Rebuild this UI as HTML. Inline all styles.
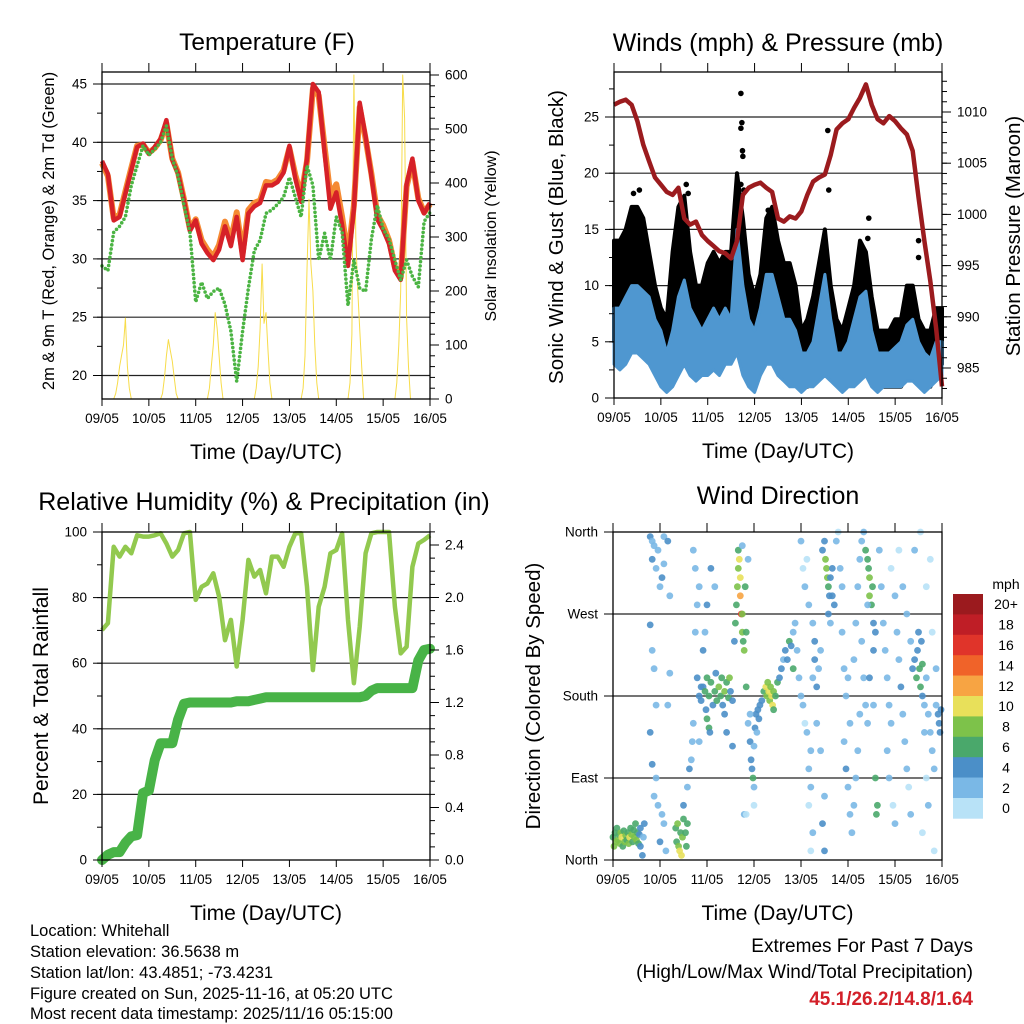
<!DOCTYPE html>
<html><head><meta charset="utf-8">
<style>
html,body{margin:0;padding:0;background:#fff;}
svg{display:block;font-family:"Liberation Sans",Arial,sans-serif;}
</style></head>
<body>
<svg id="chart" width="1024" height="1024" viewBox="0 0 1024 1024" xmlns="http://www.w3.org/2000/svg">
<g id="layer"></g>
<g font-size="16.5" fill="#000">
<text x="30" y="936">Location: Whitehall</text>
<text x="30" y="957">Station elevation: 36.5638 m</text>
<text x="30" y="978">Station lat/lon: 43.4851; -73.4231</text>
<text x="30" y="999">Figure created on Sun, 2025-11-16, at 05:20 UTC</text>
<text x="30" y="1019">Most recent data timestamp: 2025/11/16 05:15:00</text>
</g>
<g text-anchor="end">
<text x="973" y="952" font-size="19">Extremes For Past 7 Days</text>
<text x="973" y="978" font-size="19">(High/Low/Max Wind/Total Precipitation)</text>
<text x="973" y="1005" font-size="19" font-weight="bold" fill="#d32029">45.1/26.2/14.8/1.64</text>
</g>
</svg>
<script>
// ---------- DATA ----------
const dayLabels = ["09/05","10/05","11/05","12/05","13/05","14/05","15/05","16/05"];
const hours3 = [0,3,6,9,12,15,18,21,24,27,30,33,36,39,42,45,48,51,54,57,60,63,66,69,72,75,78,81,84,87,90,93,96,99,102,105,108,111,114,117,120,123,126,129,132,135,138,141,144,147,150,153,156,159,162,165,168];
const temp2m = [38.4,37.3,33.3,33.6,35.6,37.6,39.6,39.9,39.0,39.6,40.3,41.9,38.5,37.3,35.0,32.4,33.3,31.3,30.5,29.9,30.8,32.8,31.1,33.6,29.9,33.9,34.5,34.8,36.3,36.3,36.6,37.4,39.7,36.9,34.9,38.6,45.0,44.3,39.1,34.3,35.7,32.9,29.4,34.3,43.4,40.5,37.1,33.4,32.5,31.3,29.0,28.2,36.4,38.6,35.0,33.9,34.8];
const temp9m = [38.2,37.1,33.5,33.8,35.8,37.8,39.7,39.8,39.1,39.5,40.2,41.6,38.6,37.4,35.1,32.6,33.4,31.6,30.8,30.2,31.2,33.2,31.6,34.0,30.5,34.2,34.8,35.0,36.6,36.5,36.8,37.6,39.5,37.2,35.4,38.4,44.6,44.0,39.6,35.4,36.4,33.6,30.2,34.6,43.0,40.3,37.3,33.8,32.9,31.6,29.3,28.4,36.2,38.3,35.2,34.0,34.7];
const dewpoint = [29.4,29.0,32.3,32.8,33.6,36.3,38.0,39.7,38.9,39.4,40.0,41.4,38.6,37.1,34.6,32.3,26.3,28.0,26.6,27.2,27.5,26.1,23.8,19.5,23.8,27.5,30.7,31.6,33.9,34.2,34.7,35.3,37.0,35.3,33.6,38.0,36.3,29.9,32.2,29.9,33.6,32.3,26.0,29.9,27.5,27.2,31.7,34.6,32.6,31.7,29.9,28.2,29.9,28.5,27.6,33.2,34.0];
const solarHours = [6,7,8,9,10,11,12,13,14,15,16,17];
const solarDay0 = [0,10,30,60,80,100,150,60,20,0,0,0];
const solarDay1 = [0,10,40,80,110,90,70,40,10,0,0,0];
const solarDay2 = [0,20,60,100,160,130,80,30,0,0,0,0];
const solarDay3 = [0,20,60,130,250,140,160,90,30,0,0,0];
const solarDay4 = [0,20,80,240,370,250,200,100,30,0,0,0];
const solarDay5 = [0,30,120,600,300,200,130,60,0,0,0,0];
const solarDay6 = [0,30,100,200,600,520,150,60,0,0,0,0];
const solarDays = [solarDay0,solarDay1,solarDay2,solarDay3,solarDay4,solarDay5,solarDay6];

const pressure = [1010.7,1011.0,1011.2,1010.7,1009.1,1006.8,1005.2,1003.6,1002.9,1002.2,1001.9,1002.6,999.6,999.0,999.3,998.0,997.4,996.9,996.4,996.2,995.7,997.4,1001.9,1002.6,1002.9,1003.1,1002.6,1002.2,999.6,999.3,999.8,999.6,1000.3,1001.9,1003.2,1003.6,1003.9,1005.8,1008.3,1008.9,1009.3,1010.4,1011.4,1012.7,1010.7,1009.3,1008.9,1009.6,1009.1,1008.4,1007.8,1006.2,1001.6,997.4,993.5,988.9,983.2];
const windLow = [3,2.5,3,4,4,3.5,3,2,1,0.5,1,2,3,2,1.5,2,2,2.5,2,3,3,4,2,1,0.5,2,3,3,2,1.5,1,1,0.5,1,1,1.5,2,1.5,1,0.5,1,1,1.5,2,1,0.5,1,1,1,1,1.5,1.5,1,0.5,1,1.5,2];
const windHigh = [8,8,9,10,10,9.5,9,7,6,4,6,9,10.5,8,7,6,7,8,7,8,7,15,10,7,6,8,11,11,9,7,7,6,4,4,5,8,11,7,4,4,5,7,9,9.5,6,4,4,4,4.5,5,6.5,7,5,4,3.5,5,5];
const gustLow = [5,6,6,7,7,6,5,3,2,1,3,5,5,4,3,3,4,4,4,4,5,6,5,3,2,4,5,5,4,3,2,2,1,1,2,3,4,3,2,1,2,2,3,3,2,1,1,1,1,1,2,2,2,1,1,2,3];
const gustHigh = [14,14,15,17,17,16,13,10,8,7,13,17,18,13,10,10,12,13,12,13,13,20,16,11,9,11,16,17,14,12,12,10,6,7,9,12,15,10,7,6,8,10,14,13,9,6,6,6,7,7,10,10,7,6,6,8,8];
const gustPeakHours = [65,65.5,65,65.8,66,65,66.5,109.5,110,130.5,156,156,10,13,37,38,79,130];
const gustPeakValues = [27.1,24.5,24,22,21.5,19,18.5,23.8,18.5,16,14,12.5,18.2,18.5,19,18.2,16.7,14.2];

const rhValues = [70.1,72.2,95.5,92.5,95.5,93.5,99,98.6,98.6,99,99.6,96.5,92.5,94.5,99.6,100,79.3,83.3,84.3,87.4,80.3,67,73.2,59,73.2,91.5,86.4,88.4,81.3,92.5,92.5,89.4,95.5,99.6,99.6,83.3,57.9,77.2,83.3,93.5,94.5,99.6,73.2,53.9,71.1,93.5,99.6,100,100,100,77.2,63,65,89.4,96.5,97.6,99];
const rainTotal = [0,0.04,0.06,0.06,0.13,0.18,0.19,0.51,0.53,0.76,0.89,0.89,0.89,1.07,1.19,1.2,1.2,1.2,1.2,1.2,1.2,1.2,1.2,1.21,1.21,1.21,1.22,1.23,1.24,1.24,1.24,1.24,1.24,1.24,1.24,1.24,1.24,1.24,1.24,1.24,1.24,1.24,1.24,1.24,1.24,1.25,1.29,1.31,1.31,1.31,1.31,1.31,1.31,1.31,1.52,1.60,1.61];

// wind direction observations: [hour, degrees, mph]
const dirObs = [
[0,25,7],[0.5,15,8],[1,30,6],[1.5,20,9],[2,35,7],[2.5,22,8],[3,28,6],[3.5,18,9],[4,30,8],[4.5,25,10],[5,15,7],[5.5,32,6],[6,20,8],[6.5,27,9],[7,22,6],[7.5,30,7],[8,18,9],[8.5,25,10],[9,35,6],[9.5,28,8],[10,20,7],[10.5,33,6],[11,25,9],[11.5,40,6],[12,22,8],[12.5,30,7],[13,18,6],[13.5,28,5],[14,15,4],[14,35,5],[15,5,4],[15.5,25,3],[16,40,4],
[19,355,4],[20,350,3],[20,330,4],[21,345,3],[22,320,2],[23,340,3],[24,300,3],[25,310,4],[26,325,2],[26,355,3],[28,350,4],[19,258,4],[20,230,3],[21,210,2],[22,170,2],[19,140,4],[20,105,4],[21,70,3],[23,60,3],[22,90,2],[25,50,2],[26,40,3],[24,20,4],[27,10,2],[28,170,2],[29,205,2],[29,290,2],
[32,35,7],[32.5,20,6],[33,40,8],[33.5,15,9],[34,10,10],[34.5,30,7],[35,5,10],[35.5,25,8],[36,45,6],[37,30,7],[37.5,15,6],[38,40,7],[36,60,4],[38,80,3],[39,100,4],
[40,110,3],[40.5,130,2],[41,150,3],[42,250,3],[43,280,2],[44,300,2],[42,320,3],[41,340,2],[43,200,4],[44,180,4],[45,190,5],[44,130,2],
[45,175,5],[46,190,4],[47,185,6],[47.5,165,5],[48,200,6],[49,180,7],[50,195,6],[51,170,5],[52,185,7],[52.5,205,4],[53,175,6],[54,190,8],[55,180,6],[55.5,200,7],[56,170,5],[57,185,8],[58,195,7],[59,178,6],[59.5,200,8],[60,185,5],[61,175,4],[48,155,6],[49,145,6],[49.5,140,5],[46,230,4],[47,250,3],[48,280,4],[50,320,4],[52,300,3],[57,160,4],[58,140,4],[61,125,4],
[62,240,5],[62.5,260,6],[63,280,7],[63.5,300,8],[64,320,9],[64.5,330,10],[65,310,11],[65,290,12],[65.5,270,16],[66,270,9],[66,250,8],[66.5,240,7],[67,230,8],[67.5,300,7],[68,250,6],[64,340,6],[66,345,3],[68,190,6],[69,330,3],
[69,150,3],[70,130,4],[70.5,110,4],[71,100,4],[71.5,90,6],[72,125,3],[72.5,145,4],[73,160,4],[73.5,140,3],[74,165,4],[74.5,155,4],[75,170,4],[70,160,3],[72,80,2],[72,60,1],[67,50,2],[68,50,1],
[77,185,6],[78,190,10],[78.5,180,8],[79,195,9],[79.5,185,10],[80,175,8],[80.5,190,9],[81,180,10],[81.5,170,11],[82,185,9],[83,180,7],[84,195,6],[85,200,5],[86,210,4],[87,220,3],[76,175,4],[82,165,6],
[88,230,4],[89,220,4],[90,240,6],[91,235,4],[92,250,3],[93,260,3],[92,210,7],[94,230,2],[95,200,2],[96,180,2],[97,170,2],[98,150,1],[99,140,2],[100,100,2],[101,120,2],[102,200,3],[103,220,4],[104,190,4],[105,210,3],[106,230,2],[98,300,2],[99,330,1],[100,280,2],[102,260,3],[103,240,4],[96,350,2],[97,320,1],[104,150,2],[106,120,2],[101,80,2],[100,60,1],[101,10,1],[102,30,2],[107,40,4],[108,10,4],[108,70,3],
[107,340,4],[108,350,5],[108.5,330,8],[109,320,8],[109.5,310,9],[110,300,6],[110.5,290,5],[111,310,5],[112,290,5],[112,320,4],[113,280,4],[111,260,3],[110,270,4],
[114,350,2],[115,360,1],[116,320,2],[117,300,3],[117,250,2],[118,210,2],[119,180,3],[118,130,2],[119,100,4],[120,80,3],[121,50,2],[122,30,2],[123,60,3],[124,90,2],[125,120,3],[126,160,3],[121,150,3],[120,200,2],[123,220,2],[124,260,3],[125,300,2],[126,330,3],[127,350,2],[128,360,2],[127,240,3],[128,200,2],[129,170,2],[130,150,3],
[129,340,6],[130,330,6],[130.5,320,7],[131,310,8],[131,290,8],[132,280,6],[132.5,300,7],[133,260,4],[134,250,5],[133,230,4],[130,280,3],[131,200,4],[133,170,3],[134,90,6],[134.5,50,6],[135,60,7],
[136,340,2],[137,300,3],[138,260,2],[139,230,3],[140,200,2],[141,170,3],[142,150,3],[140,120,2],[141,90,2],[143,60,1],[144,40,2],[142,320,1],[144,290,2],[145,250,2],[146,220,3],[147,190,4],[148,160,3],[149,130,3],[150,100,2],[151,80,1],[152,50,2],[146,340,1],[148,300,2],[150,270,2],[152,240,3],[153,210,4],[154,220,5],[155,200,6],[155.5,230,5],[156,250,4],[156.5,210,6],[157,190,7],[157.5,240,5],[158,215,6],[158,180,4],[159,170,3],[160,200,2],[161,160,2],[162,140,2],[163,120,2],[164,100,2],[160,90,1],[161,60,2],[158,30,1],[164,10,1],[159,140,2],[165,170,2],[166,160,4],[166.5,150,5],[167,140,4],[167.5,165,4],[165,210,2],[163,250,1],[160,300,1],[162,330,1],[154,340,2],[157,360,1]
];
const speedBinLabels = ["0","2","4","6","8","10","12","14","16","18","20+"];
const speedBinColors = ["#b8e2f7","#7ab8e6","#4b8fc8","#4aa86b","#7dc24a","#e8e05a","#f7a443","#f06329","#e0342a","#bf1e26","#9b1a1e"];

// ---------- HELPERS ----------
const NS="http://www.w3.org/2000/svg";
const root=document.getElementById('layer');
function mk(tag,attrs,parent){const e=document.createElementNS(NS,tag);for(const k in attrs)e.setAttribute(k,attrs[k]);(parent||root).appendChild(e);return e;}
function txt(x,y,s,size,anchor,parent,extra){const e=mk('text',Object.assign({x:x,y:y,'font-size':size,'text-anchor':anchor||'middle',fill:'#000'},extra||{}),parent);e.textContent=s;return e;}
function linScale(d0,d1,r0,r1){return v=>r0+(v-d0)*(r1-r0)/(d1-d0);}

function panelFrame(g,L,R,T,B,name){
  const f=mk('rect',{x:L,y:T,width:R-L,height:B-T,fill:'none',stroke:'#000','stroke-width':1.3},g);
  
  
}
function xAxis(g,L,R,T,B,name){
  const xs=linScale(0,7,L,R);
  const ax=mk('g',{},g);
  
  
  for(let d=0;d<=7;d++){
    const x=xs(d);
    mk('line',{x1:x,y1:B,x2:x,y2:B+7,stroke:'#000','stroke-width':1},ax);
    mk('line',{x1:x,y1:T,x2:x,y2:T-9,stroke:'#000','stroke-width':1},ax);
    const t=txt(x,B+24,dayLabels[d],13.5,'middle',ax);
    
    
  }
  const at=txt((L+R)/2,B+60,'Time (Day/UTC)',21,'middle',g);
  
  
}
function yTicks(g,scale,vals,labels,minor,side,edge,name){
  const ax=mk('g',{},g);
  
  
  const dir=side==='left'?-1:1;
  minor.forEach(v=>{const y=scale(v);mk('line',{x1:edge,y1:y,x2:edge+dir*5,y2:y,stroke:'#000','stroke-width':1},ax);});
  vals.forEach((v,i)=>{const y=scale(v);mk('line',{x1:edge,y1:y,x2:edge+dir*9,y2:y,stroke:'#000','stroke-width':1},ax);
    const t=txt(edge+dir*15,y+4.5,labels[i],13.5,side==='left'?'end':'start',ax);
    
    });
}
function grid(g,scale,vals,L,R){vals.forEach(v=>{const y=scale(v);mk('line',{x1:L,y1:y,x2:R,y2:y,stroke:'#222','stroke-width':1.2},g);});}
function range(a,b,s){const r=[];for(let v=a;v<=b+1e-9;v+=s)r.push(Math.round(v*1000)/1000);return r;}
function vTitle(x,y,s,size,g){return txt(x,y,s,size,'middle',g,{transform:`rotate(-90 ${x} ${y})`});}
function poly(xs,ys,hours,vals){return hours.map((h,i)=>xs(h).toFixed(1)+','+ys(vals[i]).toFixed(1)).join(' ');}

// ---------- PANEL 1: TEMPERATURE ----------
(function(){
  const L=102,R=430,T=72,B=399;
  const g=mk('g',{});
  
  
  const xs=linScale(0,168,L,R), yT=linScale(45,20,84,375.5), yS=linScale(0,600,399,75);
  grid(g,yT,[20,25,30,35,40,45],L,R);
  const sg=mk('g',{},g);
  
  
  solarDays.forEach((arr,d)=>{
    const pts=[[d*24+solarHours[0]-1,0]].concat(arr.map((v,i)=>[d*24+solarHours[i],v]));
    const pl=mk('polyline',{points:pts.map(p=>xs(p[0]).toFixed(1)+','+yS(p[1]).toFixed(1)).join(' '),fill:'none',stroke:'#f7dc4a','stroke-width':1,'stroke-linejoin':'round'},sg);
    
    
  });
  const o=mk('polyline',{points:poly(xs,yT,hours3,temp9m),fill:'none',stroke:'#f58a33','stroke-width':6,'stroke-linejoin':'round'},g);
  
  
  const r=mk('polyline',{points:poly(xs,yT,hours3,temp2m),fill:'none',stroke:'#d62128','stroke-width':4.5,'stroke-linejoin':'round'},g);
  
  
  const gr=mk('polyline',{points:poly(xs,yT,hours3,dewpoint),fill:'none',stroke:'#4bb443','stroke-width':3.6,'stroke-dasharray':'0 4.2','stroke-linecap':'round','stroke-linejoin':'round'},g);
  
  
  panelFrame(g,L,R,T,B,'temperature');
  xAxis(g,L,R,T,B,'temperature');
  yTicks(g,yT,[20,25,30,35,40,45],['20','25','30','35','40','45'],range(17.5,45,2.5).filter(v=>v>=18),'left',L,'temperature-y-axis');
  yTicks(g,yS,[0,100,200,300,400,500,600],['0','100','200','300','400','500','600'],range(0,600,20),'right',R,'solar-y-axis');
  const t=txt(267,50,'Temperature (F)',24.5,'middle',g);  
  const yl=vTitle(54,231,'2m & 9m T (Red, Orange) & 2m Td (Green)',16.5,g);  
  const yr=vTitle(496,236,'Solar Insolation (Yellow)',16,g);  
})();

// ---------- PANEL 2: WINDS ----------
(function(){
  const L=614,R=942,T=72,B=398;
  const g=mk('g',{});
  
  
  const xs=linScale(0,168,L,R), yW=linScale(0,25,398,117), yP=linScale(985,1010,368,112);
  grid(g,yW,[5,10,15,20,25],L,R);
  const gust=hours3.map((h,i)=>xs(h).toFixed(1)+','+yW(gustHigh[i]).toFixed(1)).concat(hours3.slice().reverse().map((h,j)=>{const i=hours3.length-1-j;return xs(h).toFixed(1)+','+yW(gustLow[i]).toFixed(1);})).join(' ');
  const gp=mk('polygon',{points:gust,fill:'#000',stroke:'#000','stroke-width':4,'stroke-linejoin':'round'},g);
  
  
  gustPeakHours.forEach((h,i)=>{const c=mk('circle',{cx:xs(h),cy:yW(gustPeakValues[i]),r:2.8,fill:'#000'},g);
    
    });
  const wind=hours3.map((h,i)=>xs(h).toFixed(1)+','+yW(windHigh[i]).toFixed(1)).concat(hours3.slice().reverse().map((h,j)=>{const i=hours3.length-1-j;return xs(h).toFixed(1)+','+yW(windLow[i]).toFixed(1);})).join(' ');
  const wp=mk('polygon',{points:wind,fill:'#4f97d0',stroke:'#4f97d0','stroke-width':3,'stroke-linejoin':'round'},g);
  
  
  const p=mk('polyline',{points:poly(xs,yP,hours3,pressure),fill:'none',stroke:'#9b1b1e','stroke-width':4.5,'stroke-linejoin':'round'},g);
  
  
  panelFrame(g,L,R,T,B,'winds');
  xAxis(g,L,R,T,B,'winds');
  yTicks(g,yW,[0,5,10,15,20,25],['0','5','10','15','20','25'],range(0,29,2.5),'left',L,'wind-y-axis');
  yTicks(g,yP,[985,990,995,1000,1005,1010],['985','990','995','1000','1005','1010'],range(983,1013,1),'right',R,'pressure-y-axis');
  const t=txt(778,51,'Winds (mph) & Pressure (mb)',25,'middle',g);  
  const yl=vTitle(563,237,'Sonic Wind & Gust (Blue, Black)',20.5,g);  
  const yr=vTitle(1020,236,'Station Pressure (Maroon)',20.5,g);  
})();

// ---------- PANEL 3: RH & PRECIP ----------
(function(){
  const L=102,R=430,T=532,B=860;
  const g=mk('g',{});
  
  
  const xs=linScale(0,168,L,R), yH=linScale(0,100,860,532), yR=linScale(0,2.4,860,545);
  grid(g,yH,[20,40,60,80],L,R);
  const h=mk('polyline',{points:poly(xs,yH,hours3,rhValues),fill:'none',stroke:'#92c94f','stroke-width':4.5,'stroke-linejoin':'round'},g);
  
  
  const p=mk('polyline',{points:poly(xs,yR,hours3,rainTotal),fill:'none',stroke:'#48b347','stroke-width':10,'stroke-linejoin':'round','stroke-linecap':'round'},g);
  
  
  panelFrame(g,L,R,T,B,'humidity');
  xAxis(g,L,R,T,B,'humidity');
  yTicks(g,yH,[0,20,40,60,80,100],['0','20','40','60','80','100'],range(0,100,10),'left',L,'humidity-y-axis');
  yTicks(g,yR,[0,0.4,0.8,1.2,1.6,2.0,2.4],['0.0','0.4','0.8','1.2','1.6','2.0','2.4'],range(0,2.5,0.1),'right',R,'rainfall-y-axis');
  const t=txt(264,510,'Relative Humidity (%) & Precipitation (in)',25,'middle',g);  
  const yl=vTitle(48,696,'Percent & Total Rainfall',21,g);  
})();

// ---------- PANEL 4: WIND DIRECTION ----------
(function(){
  const L=613,R=942,T=532,B=860;
  const g=mk('g',{});
  
  
  const xs=linScale(0,168,L,R), yD=linScale(0,360,860,532);
  grid(g,yD,[90,180,270],L,R);
  dirObs.forEach(o=>{
    const bin=Math.min(10,Math.floor(o[2]/2));
    const c=mk('circle',{cx:xs(o[0]).toFixed(1),cy:yD(o[1]).toFixed(1),r:3.4,fill:speedBinColors[bin],'fill-opacity':0.9},g);
    
    
  });
  panelFrame(g,L,R,T,B,'wind-direction');
  xAxis(g,L,R,T,B,'wind-direction');
  yTicks(g,yD,[0,90,180,270,360],['North','East','South','West','North'],[],'left',L,'direction-y-axis');
  const t=txt(778,504,'Wind Direction',25,'middle',g);  
  const yl=vTitle(540,696,'Direction (Colored By Speed)',20.5,g);  
  const cb=mk('g',{},g);
  
  
  const top=594, h=20.4;
  const ut=txt(1006,589,'mph',14,'middle',cb);  
  for(let k=0;k<11;k++){
    const idx=10-k;
    const rct=mk('rect',{x:953,y:top+k*h,width:30,height:h+0.3,fill:speedBinColors[idx]},cb);
    
    
    const lt=txt(1006,top+k*h+h/2+5,speedBinLabels[idx],14,'middle',cb);
    
    
  }
})();
</script>
</body></html>
